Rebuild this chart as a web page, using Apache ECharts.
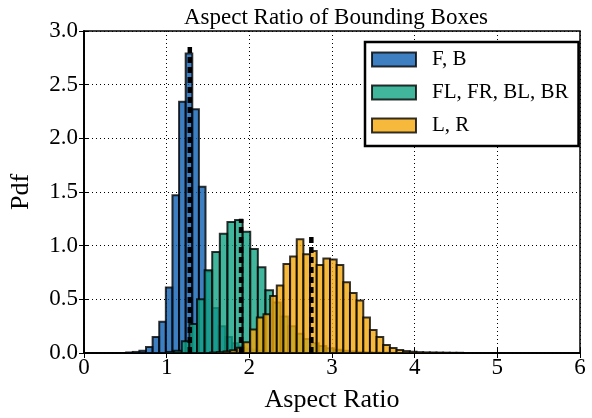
<!DOCTYPE html>
<html>
<head>
<meta charset="utf-8">
<title>Aspect Ratio of Bounding Boxes</title>
<script src="https://cdn.jsdelivr.net/npm/echarts@6/dist/echarts.min.js"></script>
<style>
html, body { margin: 0; padding: 0; background: #fff; }
#main { width: 592px; height: 418px; }
</style>
</head>
<body>
<div id="main"></div>
<script>
// histogram of each view group: left edge of first bin, bin width, pdf heights
var names = ['F, B', 'FL, FR, BL, BR', 'L, R'];

var fbStart = 0.51, fbWidth = 0.08;
var fbHeights = [0.005, 0.01, 0.02, 0.055, 0.15, 0.29, 0.61, 1.47, 2.34, 2.79,
                 2.27, 1.55, 0.76, 0.42, 0.25, 0.15, 0.09, 0.06, 0.04, 0.03,
                 0.02, 0.015, 0.01, 0.008, 0.005, 0.004, 0.003, 0.002, 0.002, 0.001];

var sideStart = 0.999, sideWidth = 0.092;
var sideHeights = [0.01, 0.02, 0.11, 0.27, 0.50, 0.77, 0.94, 1.11, 1.22, 1.24,
                   1.13, 0.97, 0.80, 0.585, 0.47, 0.34, 0.25, 0.18, 0.13, 0.09,
                   0.065, 0.045, 0.03, 0.02, 0.015, 0.01, 0.007, 0.005, 0.003, 0.002];

var lrStart = 1.527, lrWidth = 0.0805;
var lrHeights = [0.005, 0.008, 0.015, 0.025, 0.05, 0.1, 0.22, 0.33, 0.36, 0.53,
                 0.63, 0.83, 0.90, 1.06, 0.92, 0.95, 0.82, 0.88, 0.87, 0.82,
                 0.66, 0.56, 0.49, 0.33, 0.215, 0.15, 0.075, 0.046, 0.028, 0.018,
                 0.012, 0.008, 0.006, 0.005, 0.004, 0.003, 0.002, 0.002];

// dashed lines: mean aspect ratio of each group and where the dash stops
var meanX = [1.28, 1.90, 2.75];
var meanTop = [2.88, 1.25, 1.10];

var xTicks = [0, 1, 2, 3, 4, 5, 6];
var yTicks = [0, 0.5, 1.0, 1.5, 2.0, 2.5, 3.0];

var colors = ['rgba(14,95,178,0.8)', 'rgba(17,164,131,0.8)', 'rgba(244,168,10,0.8)'];
var edge = 'rgba(0,0,0,0.8)';
var font = 'Liberation Serif';

function bins(start, width, heights) {
    var out = [];
    for (var i = 0; i < heights.length; i++) {
        out.push([start + i * width, heights[i]]);
    }
    return out;
}

function histSeries(name, color, width, data) {
    return {
        name: name,
        type: 'custom',
        itemStyle: { color: color },
        data: data,
        renderItem: function (params, api) {
            var x0 = api.value(0), h = api.value(1);
            var a = api.coord([x0, h]);
            var b = api.coord([x0 + width, 0]);
            return {
                type: 'rect',
                shape: { x: a[0], y: a[1], width: b[0] - a[0], height: b[1] - a[1] },
                style: { fill: color, stroke: edge, lineWidth: 2 }
            };
        }
    };
}

var meanData = [];
for (var i = 0; i < meanX.length; i++) meanData.push([meanX[i], meanTop[i]]);

var myChart = echarts.init(document.getElementById('main'));

var option = {
    backgroundColor: '#fff',
    animation: false,
    title: {
        text: 'Aspect Ratio of Bounding Boxes',
        left: 331, top: 1, textAlign: 'center',
        textStyle: { fontFamily: font, fontSize: 23, fontWeight: 'normal', color: '#000' }
    },
    grid: { left: 82, right: 12, top: 31, bottom: 64, show: true, borderColor: '#000', borderWidth: 1.5, backgroundColor: 'transparent' },
    legend: {
        data: names,
        orient: 'vertical',
        left: 365, top: 42,
        padding: [7, 10, 10, 6],
        itemWidth: 44, itemHeight: 14, itemGap: 12,
        icon: 'rect',
        borderColor: '#000', borderWidth: 2.5, backgroundColor: '#fff',
        itemStyle: { borderColor: edge, borderWidth: 2 },
        textStyle: { fontFamily: font, fontSize: 21, color: '#000', lineHeight: 20, padding: [0, 0, 0, 11] }
    },
    xAxis: [{
        type: 'value', min: 0, max: 6, interval: 1,
        name: 'Aspect Ratio', nameLocation: 'middle', nameGap: 34,
        nameTextStyle: { fontFamily: font, fontSize: 26, color: '#000' },
        axisLine: { lineStyle: { color: '#000', width: 1.5 } },
        axisTick: { inside: true, length: 5, lineStyle: { color: '#000' } },
        axisLabel: { fontFamily: font, fontSize: 23, color: '#000', margin: 3,
                     formatter: function (v) { return xTicks.indexOf(v) >= 0 ? String(v) : ''; } },
        splitLine: { show: true, lineStyle: { color: '#000', type: [1, 3], width: 1 } }
    }, {
        type: 'value', min: 0, max: 6, interval: 1, position: 'top',
        axisLine: { lineStyle: { color: '#000', width: 1.5 } },
        axisTick: { inside: true, length: 5, lineStyle: { color: '#000' } },
        axisLabel: { show: false }, splitLine: { show: false }
    }],
    yAxis: [{
        type: 'value', min: 0, max: 3, interval: 0.5,
        name: 'Pdf', nameLocation: 'middle', nameGap: 50,
        nameTextStyle: { fontFamily: font, fontSize: 26, color: '#000' },
        axisLine: { show: true, lineStyle: { color: '#000', width: 1.5 } },
        axisTick: { show: true, inside: true, length: 5, lineStyle: { color: '#000' } },
        axisLabel: { fontFamily: font, fontSize: 23, color: '#000', margin: 6,
                     formatter: function (v) { return v.toFixed(1); } },
        splitLine: { show: true, lineStyle: { color: '#000', type: [1, 3], width: 1 } }
    }, {
        type: 'value', min: 0, max: 3, interval: 0.5, position: 'right',
        axisLine: { show: true, lineStyle: { color: '#000', width: 1.5 } },
        axisTick: { show: true, inside: true, length: 5, lineStyle: { color: '#000' } },
        axisLabel: { show: false }, splitLine: { show: false }
    }],
    series: [
        histSeries(names[0], colors[0], fbWidth, bins(fbStart, fbWidth, fbHeights)),
        histSeries(names[1], colors[1], sideWidth, bins(sideStart, sideWidth, sideHeights)),
        histSeries(names[2], colors[2], lrWidth, bins(lrStart, lrWidth, lrHeights)),
        {
            name: 'mean',
            type: 'custom',
            data: meanData,
            z: 5,
            renderItem: function (params, api) {
                var p0 = api.coord([api.value(0), 0]);
                var p1 = api.coord([api.value(0), api.value(1)]);
                return {
                    type: 'line',
                    shape: { x1: p0[0], y1: p0[1], x2: p1[0], y2: p1[1] },
                    style: { stroke: '#000', lineWidth: 4.5, lineDash: [6, 4] }
                };
            }
        }
    ]
};

myChart.setOption(option);
</script>
</body>
</html>
